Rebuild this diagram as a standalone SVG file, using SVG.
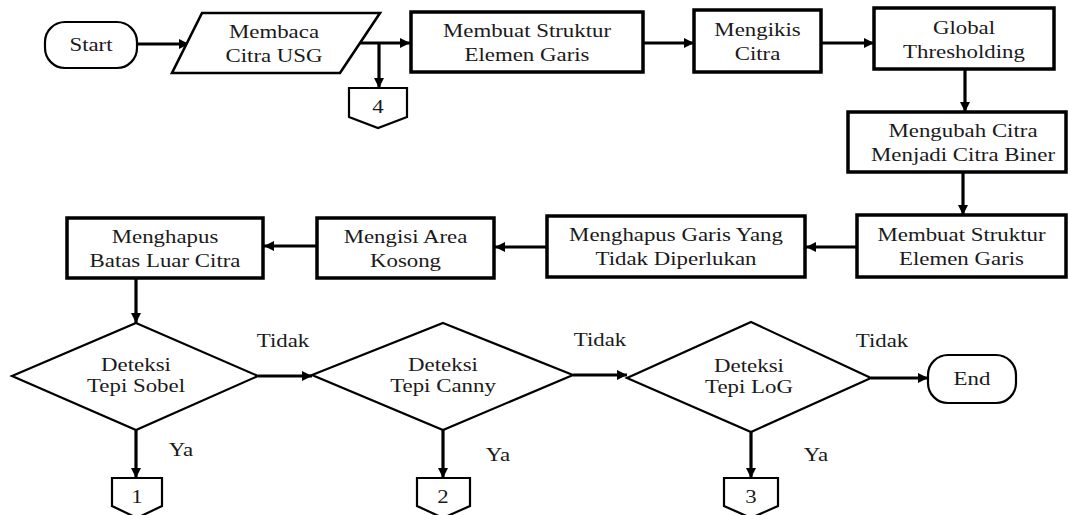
<svg xmlns="http://www.w3.org/2000/svg" width="1068" height="515" viewBox="0 0 1068 515">
<defs>
<marker id="ah" viewBox="0 0 10 10" refX="10" refY="5" markerWidth="11" markerHeight="10" markerUnits="userSpaceOnUse" orient="auto">
<path d="M0,0 L10,5 L0,10 z" fill="#000"/>
</marker>
</defs>
<style>
text{font-family:"Liberation Serif","Times New Roman",serif;font-size:18px;fill:#1a1a1a;text-anchor:middle}
.box{fill:#fff;stroke:#000;stroke-width:3.5}
.thin{fill:#fff;stroke:#000;stroke-width:2.2}
.io{fill:#fff;stroke:#000;stroke-width:2.6}
.con line,.con polyline{fill:none;stroke:#000;stroke-width:3.2;marker-end:url(#ah)}
</style>
<rect width="1068" height="515" fill="#fff"/>
<g class="con" id="connectors">
<line x1="137" y1="44" x2="189" y2="44"/>
<line x1="358" y1="43" x2="410" y2="43"/>
<line x1="379" y1="43" x2="379" y2="88"/>
<line x1="643" y1="43" x2="694" y2="43"/>
<line x1="821" y1="43" x2="874" y2="43"/>
<line x1="965" y1="69" x2="965" y2="112"/>
<line x1="963" y1="172" x2="963" y2="215"/>
<line x1="857" y1="247" x2="806" y2="247"/>
<line x1="547" y1="247" x2="495" y2="247"/>
<line x1="317" y1="246" x2="264" y2="246"/>
<line x1="136" y1="278" x2="136" y2="323"/>
<line x1="258" y1="376" x2="312" y2="376"/>
<line x1="573" y1="375" x2="627" y2="375"/>
<line x1="871" y1="378" x2="928" y2="378"/>
<line x1="136" y1="430" x2="136" y2="478"/>
<line x1="443" y1="430" x2="443" y2="478"/>
<line x1="751" y1="432" x2="751" y2="478"/>
</g>
<g id="start">
<rect class="thin" x="45" y="22" width="92" height="46" rx="20"/>
<text transform="translate(91,0) scale(1.27,1)" x="0" y="51">Start</text>
</g>
<g id="read">
<polygon class="io" points="202,13 380,13 340,73 172,73"/>
<text transform="translate(274,0) scale(1.27,1)"><tspan x="0" y="38">Membaca</tspan><tspan x="0" y="62">Citra USG</tspan></text>
</g>
<g id="conn4">
<polygon class="thin" points="349,88 407,88 407,117 378,128 349,117"/>
<text transform="translate(378,0) scale(1.27,1)" x="0" y="113">4</text>
</g>
<g id="struct1">
<rect class="box" x="411" y="12" width="232" height="60"/>
<text transform="translate(527,0) scale(1.27,1)"><tspan x="0" y="37">Membuat Struktur</tspan><tspan x="0" y="61">Elemen Garis</tspan></text>
</g>
<g id="erode">
<rect class="box" x="694" y="10" width="127" height="62"/>
<text transform="translate(757.5,0) scale(1.27,1)"><tspan x="0" y="36">Mengikis</tspan><tspan x="0" y="60">Citra</tspan></text>
</g>
<g id="threshold">
<rect class="box" x="874" y="8" width="180" height="61"/>
<text transform="translate(964,0) scale(1.27,1)"><tspan x="0" y="34">Global</tspan><tspan x="0" y="58">Thresholding</tspan></text>
</g>
<g id="binary">
<rect class="box" x="848" y="112" width="218" height="60"/>
<text transform="translate(963,0) scale(1.27,1)"><tspan x="0" y="137">Mengubah Citra</tspan><tspan x="0" y="161">Menjadi Citra Biner</tspan></text>
</g>
<g id="struct2">
<rect class="box" x="857" y="215" width="209" height="62"/>
<text transform="translate(961.5,0) scale(1.27,1)"><tspan x="0" y="241">Membuat Struktur</tspan><tspan x="0" y="265">Elemen Garis</tspan></text>
</g>
<g id="removeLines">
<rect class="box" x="547" y="216" width="258" height="61"/>
<text transform="translate(676,0) scale(1.27,1)"><tspan x="0" y="241">Menghapus Garis Yang</tspan><tspan x="0" y="265">Tidak Diperlukan</tspan></text>
</g>
<g id="fill">
<rect class="box" x="317" y="218" width="177" height="60"/>
<text transform="translate(405.5,0) scale(1.27,1)"><tspan x="0" y="243">Mengisi Area</tspan><tspan x="0" y="267">Kosong</tspan></text>
</g>
<g id="border">
<rect class="box" x="67" y="218" width="196" height="60"/>
<text transform="translate(165,0) scale(1.27,1)"><tspan x="0" y="243">Menghapus</tspan><tspan x="0" y="267">Batas Luar Citra</tspan></text>
</g>
<g id="sobel">
<polygon class="thin" points="136,323 258,376 136,430 12,376"/>
<text transform="translate(136,0) scale(1.27,1)"><tspan x="0" y="371">Deteksi</tspan><tspan x="0" y="392">Tepi Sobel</tspan></text>
</g>
<g id="canny">
<polygon class="thin" points="443,323 573,375 443,430 312,375"/>
<text transform="translate(443,0) scale(1.27,1)"><tspan x="0" y="371">Deteksi</tspan><tspan x="0" y="392">Tepi Canny</tspan></text>
</g>
<g id="log">
<polygon class="thin" points="751,322 871,378 751,432 627,378"/>
<text transform="translate(749,0) scale(1.27,1)"><tspan x="0" y="372">Deteksi</tspan><tspan x="0" y="393">Tepi LoG</tspan></text>
</g>
<g id="end">
<rect class="thin" x="928" y="355" width="88" height="48" rx="20"/>
<text transform="translate(972,0) scale(1.27,1)" x="0" y="385">End</text>
</g>
<g id="conn1">
<polygon class="thin" points="112,478 162,478 162,506 137,518 112,506"/>
<text transform="translate(137,0) scale(1.27,1)" x="0" y="503">1</text>
</g>
<g id="conn2">
<polygon class="thin" points="417,478 470,478 470,506 443,518 417,506"/>
<text transform="translate(443,0) scale(1.27,1)" x="0" y="503">2</text>
</g>
<g id="conn3">
<polygon class="thin" points="724,478 778,478 778,506 751,518 724,506"/>
<text transform="translate(751,0) scale(1.27,1)" x="0" y="503">3</text>
</g>
<g id="labels">
<text transform="translate(283,0) scale(1.27,1)" x="0" y="347">Tidak</text>
<text transform="translate(600,0) scale(1.27,1)" x="0" y="346">Tidak</text>
<text transform="translate(882,0) scale(1.27,1)" x="0" y="347">Tidak</text>
<text transform="translate(181,0) scale(1.27,1)" x="0" y="456">Ya</text>
<text transform="translate(498,0) scale(1.27,1)" x="0" y="461">Ya</text>
<text transform="translate(816,0) scale(1.27,1)" x="0" y="461">Ya</text>
</g>
</svg>
